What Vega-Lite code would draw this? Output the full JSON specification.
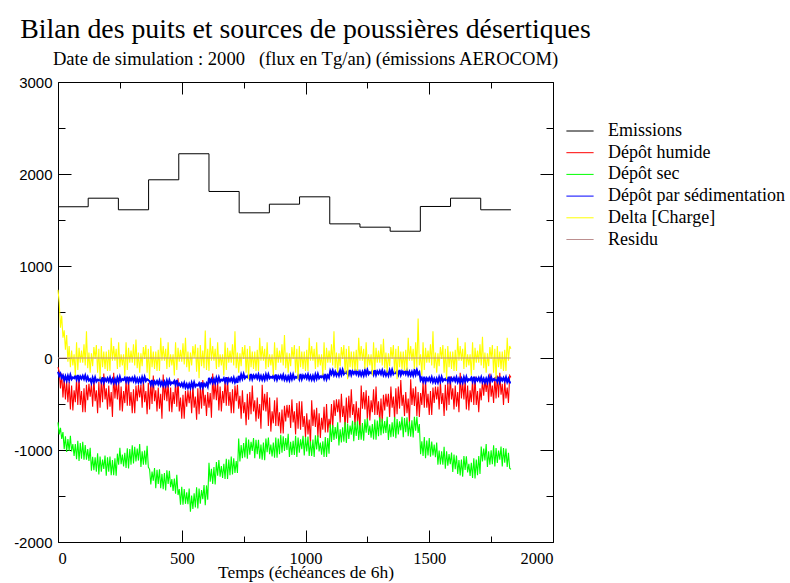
{
"$schema": "https://vega.github.io/schema/vega-lite/v6.json",
"width": 495, "height": 460,
"autosize": {"type": "none"},
"padding": {"left": 58, "top": 82, "right": 237, "bottom": 41},
"background": "white",
"title": {"text": "Bilan des puits et sources de poussières désertiques", "subtitle": "Date de simulation : 2000\u00a0\u00a0 (flux en Tg/an) (émissions AEROCOM)", "anchor": "middle", "frame": "group", "font": "Liberation Serif", "fontSize": 27.8, "fontWeight": "normal", "color": "black", "subtitleFont": "Liberation Serif", "subtitleFontSize": 18.6, "subtitleColor": "black", "subtitlePadding": 7, "offset": 6},
"config": {
 "view": {"stroke": "black", "strokeWidth": 1},
 "font": "Liberation Serif",
 "axis": {"domain": false, "grid": false, "tickColor": "black", "labelColor": "black", "titleColor": "black", "titleFontWeight": "normal"},
 "legend": {"orient": "none", "legendX": 513, "legendY": 40, "title": null, "symbolType": "M-1.7,0H1.7", "symbolSize": 256, "symbolStrokeWidth": 1, "labelFont": "Liberation Serif", "labelFontSize": 18, "labelColor": "black", "labelOffset": 19, "rowPadding": 3.7, "padding": 0, "labelLimit": 300}
},
"datasets": {
 "emis": [{"t":0,"v":1644},{"t":122,"v":1737},{"t":244,"v":1611},{"t":366,"v":1937},{"t":488,"v":2220},{"t":610,"v":1810},{"t":732,"v":1578},{"t":854,"v":1672},{"t":976,"v":1752},{"t":1098,"v":1458},{"t":1220,"v":1422},{"t":1342,"v":1378},{"t":1464,"v":1647},{"t":1586,"v":1737},{"t":1708,"v":1611},{"t":1830,"v":1611}],
 "names": [{"k":"h","name":"Dépôt humide"},{"k":"s","name":"Dépôt sec"},{"k":"d","name":"Dépôt par sédimentation"},{"k":"c","name":"Delta [Charge]"}],
 "resid": [{"t":0,"v":0},{"t":1830,"v":0}],
 "flux": [
{"t":0,"h":-100,"s":-700,"d":-150,"c":740},
{"t":5,"h":-150,"s":-830,"d":-195,"c":600},
{"t":10,"h":-330,"s":-760,"d":-170,"c":330},
{"t":15,"h":-170,"s":-880,"d":-215,"c":460},
{"t":20,"h":-430,"s":-805,"d":-190,"c":220},
{"t":25,"h":-220,"s":-990,"d":-240,"c":300},
{"t":30,"h":-450,"s":-850,"d":-200,"c":90},
{"t":35,"h":-250,"s":-1020,"d":-245,"c":250},
{"t":40,"h":-480,"s":-880,"d":-195,"c":-40},
{"t":45,"h":-260,"s":-1010,"d":-240,"c":130},
{"t":50,"h":-560,"s":-845,"d":-185,"c":-100},
{"t":55,"h":-300,"s":-1015,"d":-230,"c":80},
{"t":60,"h":-570,"s":-935,"d":-210,"c":-80},
{"t":65,"h":-350,"s":-1065,"d":-220,"c":40},
{"t":70,"h":-480,"s":-935,"d":-195,"c":-190},
{"t":75,"h":-230,"s":-1100,"d":-235,"c":170},
{"t":80,"h":-510,"s":-900,"d":-185,"c":-130},
{"t":85,"h":-200,"s":-1120,"d":-240,"c":110},
{"t":90,"h":-510,"s":-925,"d":-200,"c":-50},
{"t":95,"h":-360,"s":-1095,"d":-225,"c":80},
{"t":100,"h":-590,"s":-910,"d":-195,"c":-50},
{"t":105,"h":-330,"s":-1105,"d":-230,"c":150},
{"t":110,"h":-590,"s":-945,"d":-190,"c":-80},
{"t":115,"h":-290,"s":-1105,"d":-240,"c":290},
{"t":120,"h":-460,"s":-990,"d":-205,"c":-110},
{"t":125,"h":-280,"s":-1120,"d":-245,"c":60},
{"t":130,"h":-420,"s":-975,"d":-230,"c":-160},
{"t":135,"h":-280,"s":-1225,"d":-270,"c":50},
{"t":140,"h":-530,"s":-1075,"d":-215,"c":-90},
{"t":145,"h":-220,"s":-1220,"d":-260,"c":120},
{"t":150,"h":-470,"s":-1080,"d":-210,"c":-10},
{"t":155,"h":-350,"s":-1235,"d":-255,"c":140},
{"t":160,"h":-600,"s":-1035,"d":-235,"c":-160},
{"t":165,"h":-260,"s":-1265,"d":-245,"c":100},
{"t":170,"h":-540,"s":-1070,"d":-220,"c":-230},
{"t":175,"h":-240,"s":-1235,"d":-260,"c":130},
{"t":180,"h":-480,"s":-1105,"d":-210,"c":-100},
{"t":185,"h":-170,"s":-1205,"d":-265,"c":70},
{"t":190,"h":-450,"s":-1060,"d":-225,"c":-120},
{"t":195,"h":-330,"s":-1280,"d":-250,"c":70},
{"t":200,"h":-560,"s":-1080,"d":-220,"c":-140},
{"t":205,"h":-300,"s":-1235,"d":-255,"c":90},
{"t":210,"h":-530,"s":-1070,"d":-215,"c":-140},
{"t":215,"h":-370,"s":-1275,"d":-265,"c":220},
{"t":220,"h":-640,"s":-1110,"d":-230,"c":-30},
{"t":225,"h":-160,"s":-1275,"d":-270,"c":130},
{"t":230,"h":-440,"s":-1090,"d":-230,"c":-30},
{"t":235,"h":-260,"s":-1280,"d":-270,"c":100},
{"t":240,"h":-450,"s":-1040,"d":-215,"c":-120},
{"t":245,"h":-245,"s":-1160,"d":-258,"c":170},
{"t":250,"h":-570,"s":-975,"d":-205,"c":-100},
{"t":255,"h":-310,"s":-1155,"d":-250,"c":40},
{"t":260,"h":-580,"s":-1050,"d":-230,"c":-80},
{"t":265,"h":-360,"s":-1180,"d":-240,"c":40},
{"t":270,"h":-490,"s":-1030,"d":-215,"c":-190},
{"t":275,"h":-240,"s":-1195,"d":-255,"c":170},
{"t":280,"h":-520,"s":-980,"d":-205,"c":-130},
{"t":285,"h":-210,"s":-1200,"d":-260,"c":110},
{"t":290,"h":-520,"s":-990,"d":-220,"c":-50},
{"t":295,"h":-370,"s":-1160,"d":-245,"c":80},
{"t":300,"h":-600,"s":-950,"d":-215,"c":-50},
{"t":305,"h":-340,"s":-1145,"d":-250,"c":150},
{"t":310,"h":-600,"s":-965,"d":-210,"c":-80},
{"t":315,"h":-300,"s":-1125,"d":-260,"c":200},
{"t":320,"h":-470,"s":-985,"d":-225,"c":-110},
{"t":325,"h":-290,"s":-1115,"d":-265,"c":60},
{"t":330,"h":-430,"s":-935,"d":-225,"c":-160},
{"t":335,"h":-290,"s":-1185,"d":-265,"c":50},
{"t":340,"h":-540,"s":-1015,"d":-210,"c":-90},
{"t":345,"h":-230,"s":-1160,"d":-255,"c":120},
{"t":350,"h":-480,"s":-1005,"d":-205,"c":-10},
{"t":355,"h":-360,"s":-1160,"d":-250,"c":140},
{"t":360,"h":-610,"s":-955,"d":-230,"c":-160},
{"t":365,"h":-270,"s":-1185,"d":-240,"c":100},
{"t":370,"h":-560,"s":-1210,"d":-250,"c":-230},
{"t":375,"h":-260,"s":-1375,"d":-290,"c":130},
{"t":380,"h":-500,"s":-1235,"d":-240,"c":-100},
{"t":385,"h":-190,"s":-1335,"d":-295,"c":70},
{"t":390,"h":-470,"s":-1195,"d":-255,"c":-120},
{"t":395,"h":-350,"s":-1415,"d":-280,"c":70},
{"t":400,"h":-580,"s":-1215,"d":-250,"c":-140},
{"t":405,"h":-320,"s":-1370,"d":-285,"c":90},
{"t":410,"h":-550,"s":-1210,"d":-245,"c":-140},
{"t":415,"h":-390,"s":-1415,"d":-295,"c":220},
{"t":420,"h":-660,"s":-1260,"d":-260,"c":-30},
{"t":425,"h":-180,"s":-1425,"d":-300,"c":130},
{"t":430,"h":-460,"s":-1250,"d":-260,"c":-30},
{"t":435,"h":-280,"s":-1440,"d":-300,"c":100},
{"t":440,"h":-470,"s":-1220,"d":-245,"c":-120},
{"t":445,"h":-260,"s":-1370,"d":-290,"c":170},
{"t":450,"h":-580,"s":-1225,"d":-240,"c":-100},
{"t":455,"h":-320,"s":-1405,"d":-285,"c":40},
{"t":460,"h":-590,"s":-1315,"d":-265,"c":-80},
{"t":465,"h":-370,"s":-1445,"d":-275,"c":40},
{"t":470,"h":-500,"s":-1310,"d":-250,"c":-190},
{"t":475,"h":-250,"s":-1475,"d":-290,"c":170},
{"t":480,"h":-530,"s":-1270,"d":-240,"c":-130},
{"t":485,"h":-220,"s":-1490,"d":-295,"c":110},
{"t":490,"h":-580,"s":-1425,"d":-280,"c":-40},
{"t":495,"h":-430,"s":-1595,"d":-305,"c":90},
{"t":500,"h":-660,"s":-1400,"d":-275,"c":-40},
{"t":505,"h":-400,"s":-1595,"d":-310,"c":160},
{"t":510,"h":-660,"s":-1425,"d":-270,"c":-70},
{"t":515,"h":-360,"s":-1585,"d":-320,"c":220},
{"t":520,"h":-530,"s":-1460,"d":-285,"c":-100},
{"t":525,"h":-350,"s":-1590,"d":-325,"c":70},
{"t":530,"h":-490,"s":-1420,"d":-285,"c":-150},
{"t":535,"h":-350,"s":-1670,"d":-325,"c":60},
{"t":540,"h":-600,"s":-1495,"d":-270,"c":-80},
{"t":545,"h":-290,"s":-1640,"d":-315,"c":130},
{"t":550,"h":-540,"s":-1470,"d":-265,"c":0},
{"t":555,"h":-420,"s":-1625,"d":-310,"c":150},
{"t":560,"h":-670,"s":-1405,"d":-290,"c":-150},
{"t":565,"h":-330,"s":-1635,"d":-300,"c":110},
{"t":570,"h":-610,"s":-1420,"d":-275,"c":-220},
{"t":575,"h":-310,"s":-1585,"d":-315,"c":140},
{"t":580,"h":-550,"s":-1435,"d":-265,"c":-90},
{"t":585,"h":-240,"s":-1535,"d":-320,"c":80},
{"t":590,"h":-520,"s":-1380,"d":-280,"c":-110},
{"t":595,"h":-400,"s":-1600,"d":-305,"c":300},
{"t":600,"h":-630,"s":-1385,"d":-275,"c":-130},
{"t":605,"h":-370,"s":-1540,"d":-310,"c":100},
{"t":610,"h":-540,"s":-1140,"d":-215,"c":-140},
{"t":615,"h":-380,"s":-1345,"d":-265,"c":220},
{"t":620,"h":-650,"s":-1205,"d":-230,"c":-30},
{"t":625,"h":-170,"s":-1370,"d":-270,"c":130},
{"t":630,"h":-450,"s":-1185,"d":-230,"c":-30},
{"t":635,"h":-270,"s":-1375,"d":-270,"c":100},
{"t":640,"h":-460,"s":-1130,"d":-215,"c":-120},
{"t":645,"h":-250,"s":-1280,"d":-260,"c":170},
{"t":650,"h":-570,"s":-1110,"d":-210,"c":-100},
{"t":655,"h":-310,"s":-1290,"d":-255,"c":40},
{"t":660,"h":-580,"s":-1175,"d":-235,"c":-80},
{"t":665,"h":-360,"s":-1305,"d":-245,"c":40},
{"t":670,"h":-490,"s":-1150,"d":-220,"c":-190},
{"t":675,"h":-240,"s":-1315,"d":-260,"c":170},
{"t":680,"h":-520,"s":-1095,"d":-210,"c":-130},
{"t":685,"h":-210,"s":-1315,"d":-265,"c":110},
{"t":690,"h":-520,"s":-1105,"d":-225,"c":-50},
{"t":695,"h":-370,"s":-1275,"d":-250,"c":80},
{"t":700,"h":-600,"s":-1070,"d":-220,"c":-50},
{"t":705,"h":-340,"s":-1265,"d":-255,"c":150},
{"t":710,"h":-600,"s":-1090,"d":-215,"c":-80},
{"t":715,"h":-300,"s":-1250,"d":-265,"c":290},
{"t":720,"h":-470,"s":-1120,"d":-230,"c":-110},
{"t":725,"h":-290,"s":-1250,"d":-270,"c":60},
{"t":730,"h":-550,"s":-875,"d":-195,"c":-160},
{"t":735,"h":-410,"s":-1125,"d":-235,"c":50},
{"t":740,"h":-660,"s":-945,"d":-180,"c":-90},
{"t":745,"h":-350,"s":-1090,"d":-225,"c":120},
{"t":750,"h":-600,"s":-925,"d":-175,"c":-10},
{"t":755,"h":-480,"s":-1080,"d":-220,"c":140},
{"t":760,"h":-730,"s":-865,"d":-200,"c":-160},
{"t":765,"h":-390,"s":-1095,"d":-210,"c":100},
{"t":770,"h":-670,"s":-885,"d":-185,"c":-230},
{"t":775,"h":-370,"s":-1050,"d":-225,"c":130},
{"t":780,"h":-610,"s":-910,"d":-175,"c":-100},
{"t":785,"h":-300,"s":-1010,"d":-230,"c":70},
{"t":790,"h":-580,"s":-870,"d":-190,"c":-120},
{"t":795,"h":-460,"s":-1090,"d":-215,"c":70},
{"t":800,"h":-690,"s":-890,"d":-185,"c":-140},
{"t":805,"h":-430,"s":-1045,"d":-220,"c":90},
{"t":810,"h":-660,"s":-890,"d":-180,"c":-140},
{"t":815,"h":-500,"s":-1095,"d":-230,"c":220},
{"t":820,"h":-770,"s":-940,"d":-195,"c":-30},
{"t":825,"h":-290,"s":-1105,"d":-235,"c":130},
{"t":830,"h":-570,"s":-920,"d":-195,"c":-30},
{"t":835,"h":-390,"s":-1110,"d":-235,"c":100},
{"t":840,"h":-580,"s":-875,"d":-180,"c":-120},
{"t":845,"h":-370,"s":-1025,"d":-225,"c":170},
{"t":850,"h":-740,"s":-865,"d":-178,"c":-100},
{"t":855,"h":-430,"s":-1045,"d":-220,"c":40},
{"t":860,"h":-800,"s":-940,"d":-205,"c":-80},
{"t":865,"h":-580,"s":-1070,"d":-215,"c":40},
{"t":870,"h":-710,"s":-920,"d":-190,"c":-190},
{"t":875,"h":-460,"s":-1085,"d":-230,"c":170},
{"t":880,"h":-740,"s":-865,"d":-180,"c":-130},
{"t":885,"h":-430,"s":-1085,"d":-235,"c":110},
{"t":890,"h":-740,"s":-875,"d":-195,"c":-50},
{"t":895,"h":-590,"s":-1045,"d":-220,"c":80},
{"t":900,"h":-820,"s":-835,"d":-190,"c":-50},
{"t":905,"h":-560,"s":-1030,"d":-225,"c":150},
{"t":910,"h":-820,"s":-850,"d":-185,"c":-80},
{"t":915,"h":-520,"s":-1010,"d":-235,"c":250},
{"t":920,"h":-690,"s":-870,"d":-200,"c":-110},
{"t":925,"h":-510,"s":-1000,"d":-240,"c":60},
{"t":930,"h":-650,"s":-825,"d":-200,"c":-160},
{"t":935,"h":-510,"s":-1075,"d":-240,"c":50},
{"t":940,"h":-760,"s":-910,"d":-185,"c":-90},
{"t":945,"h":-450,"s":-1055,"d":-230,"c":120},
{"t":950,"h":-700,"s":-900,"d":-180,"c":-10},
{"t":955,"h":-580,"s":-1055,"d":-225,"c":140},
{"t":960,"h":-830,"s":-845,"d":-205,"c":-160},
{"t":965,"h":-490,"s":-1075,"d":-215,"c":100},
{"t":970,"h":-770,"s":-865,"d":-190,"c":-230},
{"t":975,"h":-470,"s":-1030,"d":-230,"c":130},
{"t":980,"h":-780,"s":-885,"d":-175,"c":-100},
{"t":985,"h":-470,"s":-990,"d":-230,"c":70},
{"t":990,"h":-750,"s":-845,"d":-190,"c":-120},
{"t":995,"h":-630,"s":-1060,"d":-215,"c":70},
{"t":1000,"h":-860,"s":-860,"d":-185,"c":-140},
{"t":1005,"h":-600,"s":-1015,"d":-220,"c":90},
{"t":1010,"h":-830,"s":-855,"d":-180,"c":-140},
{"t":1015,"h":-670,"s":-1065,"d":-230,"c":220},
{"t":1020,"h":-940,"s":-905,"d":-195,"c":-30},
{"t":1025,"h":-460,"s":-1065,"d":-235,"c":130},
{"t":1030,"h":-740,"s":-885,"d":-195,"c":-30},
{"t":1035,"h":-560,"s":-1075,"d":-235,"c":100},
{"t":1040,"h":-750,"s":-840,"d":-180,"c":-120},
{"t":1045,"h":-540,"s":-995,"d":-225,"c":170},
{"t":1050,"h":-860,"s":-840,"d":-175,"c":-100},
{"t":1055,"h":-600,"s":-1015,"d":-220,"c":40},
{"t":1060,"h":-870,"s":-920,"d":-200,"c":-80},
{"t":1065,"h":-650,"s":-1050,"d":-210,"c":40},
{"t":1070,"h":-780,"s":-905,"d":-185,"c":-190},
{"t":1075,"h":-530,"s":-1075,"d":-225,"c":170},
{"t":1080,"h":-810,"s":-860,"d":-175,"c":-130},
{"t":1085,"h":-500,"s":-1075,"d":-230,"c":110},
{"t":1090,"h":-810,"s":-870,"d":-190,"c":-50},
{"t":1095,"h":-660,"s":-1040,"d":-215,"c":80},
{"t":1100,"h":-760,"s":-720,"d":-140,"c":-50},
{"t":1105,"h":-500,"s":-913,"d":-175,"c":150},
{"t":1110,"h":-760,"s":-728,"d":-135,"c":-80},
{"t":1115,"h":-460,"s":-890,"d":-185,"c":290},
{"t":1120,"h":-630,"s":-750,"d":-150,"c":-110},
{"t":1125,"h":-450,"s":-878,"d":-190,"c":60},
{"t":1130,"h":-590,"s":-698,"d":-150,"c":-160},
{"t":1135,"h":-450,"s":-950,"d":-190,"c":50},
{"t":1140,"h":-700,"s":-775,"d":-135,"c":-90},
{"t":1145,"h":-390,"s":-918,"d":-180,"c":120},
{"t":1150,"h":-640,"s":-753,"d":-130,"c":-10},
{"t":1155,"h":-520,"s":-910,"d":-175,"c":140},
{"t":1160,"h":-770,"s":-695,"d":-155,"c":-160},
{"t":1165,"h":-430,"s":-923,"d":-165,"c":100},
{"t":1170,"h":-710,"s":-713,"d":-140,"c":-230},
{"t":1175,"h":-410,"s":-880,"d":-180,"c":130},
{"t":1180,"h":-650,"s":-735,"d":-130,"c":-100},
{"t":1185,"h":-340,"s":-833,"d":-185,"c":70},
{"t":1190,"h":-620,"s":-683,"d":-145,"c":-120},
{"t":1195,"h":-500,"s":-905,"d":-170,"c":70},
{"t":1200,"h":-730,"s":-695,"d":-140,"c":-140},
{"t":1205,"h":-470,"s":-848,"d":-175,"c":90},
{"t":1210,"h":-700,"s":-683,"d":-135,"c":-140},
{"t":1215,"h":-540,"s":-890,"d":-185,"c":220},
{"t":1220,"h":-810,"s":-725,"d":-150,"c":-30},
{"t":1225,"h":-300,"s":-889,"d":-190,"c":130},
{"t":1230,"h":-550,"s":-706,"d":-150,"c":-30},
{"t":1235,"h":-370,"s":-898,"d":-190,"c":100},
{"t":1240,"h":-560,"s":-665,"d":-135,"c":-120},
{"t":1245,"h":-350,"s":-813,"d":-180,"c":170},
{"t":1250,"h":-670,"s":-656,"d":-130,"c":-100},
{"t":1255,"h":-410,"s":-837,"d":-175,"c":40},
{"t":1260,"h":-680,"s":-735,"d":-155,"c":-80},
{"t":1265,"h":-460,"s":-865,"d":-165,"c":40},
{"t":1270,"h":-590,"s":-719,"d":-140,"c":-190},
{"t":1275,"h":-340,"s":-885,"d":-180,"c":170},
{"t":1280,"h":-620,"s":-668,"d":-130,"c":-130},
{"t":1285,"h":-310,"s":-887,"d":-185,"c":110},
{"t":1290,"h":-620,"s":-680,"d":-145,"c":-50},
{"t":1295,"h":-470,"s":-851,"d":-170,"c":80},
{"t":1300,"h":-700,"s":-645,"d":-140,"c":-50},
{"t":1305,"h":-440,"s":-840,"d":-175,"c":150},
{"t":1310,"h":-700,"s":-660,"d":-135,"c":-80},
{"t":1315,"h":-400,"s":-820,"d":-185,"c":210},
{"t":1320,"h":-570,"s":-685,"d":-150,"c":-110},
{"t":1325,"h":-390,"s":-815,"d":-190,"c":60},
{"t":1330,"h":-530,"s":-640,"d":-150,"c":-160},
{"t":1335,"h":-390,"s":-890,"d":-190,"c":50},
{"t":1340,"h":-640,"s":-720,"d":-135,"c":-90},
{"t":1345,"h":-310,"s":-862,"d":-180,"c":120},
{"t":1350,"h":-540,"s":-699,"d":-130,"c":-10},
{"t":1355,"h":-420,"s":-855,"d":-175,"c":140},
{"t":1360,"h":-670,"s":-643,"d":-155,"c":-160},
{"t":1365,"h":-330,"s":-871,"d":-165,"c":100},
{"t":1370,"h":-610,"s":-663,"d":-140,"c":-230},
{"t":1375,"h":-310,"s":-830,"d":-180,"c":130},
{"t":1380,"h":-550,"s":-687,"d":-130,"c":-100},
{"t":1385,"h":-240,"s":-786,"d":-185,"c":70},
{"t":1390,"h":-520,"s":-639,"d":-145,"c":-120},
{"t":1395,"h":-400,"s":-860,"d":-170,"c":70},
{"t":1400,"h":-630,"s":-653,"d":-140,"c":-140},
{"t":1405,"h":-370,"s":-807,"d":-175,"c":90},
{"t":1410,"h":-600,"s":-645,"d":-135,"c":-140},
{"t":1415,"h":-440,"s":-851,"d":-185,"c":220},
{"t":1420,"h":-710,"s":-690,"d":-150,"c":-30},
{"t":1425,"h":-230,"s":-855,"d":-190,"c":130},
{"t":1430,"h":-510,"s":-676,"d":-150,"c":-30},
{"t":1435,"h":-330,"s":-865,"d":-190,"c":100},
{"t":1440,"h":-520,"s":-638,"d":-135,"c":-120},
{"t":1445,"h":-310,"s":-789,"d":-180,"c":170},
{"t":1450,"h":-630,"s":-636,"d":-130,"c":-100},
{"t":1455,"h":-370,"s":-815,"d":-175,"c":430},
{"t":1460,"h":-640,"s":-717,"d":-155,"c":-80},
{"t":1465,"h":-380,"s":-1045,"d":-240,"c":40},
{"t":1470,"h":-510,"s":-905,"d":-215,"c":-190},
{"t":1475,"h":-260,"s":-1065,"d":-255,"c":170},
{"t":1480,"h":-540,"s":-860,"d":-205,"c":-130},
{"t":1485,"h":-230,"s":-1088,"d":-260,"c":110},
{"t":1490,"h":-540,"s":-898,"d":-220,"c":-50},
{"t":1495,"h":-390,"s":-1060,"d":-245,"c":80},
{"t":1500,"h":-620,"s":-870,"d":-215,"c":-50},
{"t":1505,"h":-360,"s":-1073,"d":-250,"c":150},
{"t":1510,"h":-620,"s":-908,"d":-210,"c":-80},
{"t":1515,"h":-320,"s":-1060,"d":-260,"c":290},
{"t":1520,"h":-490,"s":-940,"d":-225,"c":-110},
{"t":1525,"h":-310,"s":-1078,"d":-265,"c":60},
{"t":1530,"h":-450,"s":-918,"d":-225,"c":-160},
{"t":1535,"h":-310,"s":-1160,"d":-265,"c":50},
{"t":1540,"h":-560,"s":-1005,"d":-210,"c":-90},
{"t":1545,"h":-250,"s":-1158,"d":-255,"c":120},
{"t":1550,"h":-500,"s":-1013,"d":-205,"c":-10},
{"t":1555,"h":-380,"s":-1160,"d":-250,"c":140},
{"t":1560,"h":-630,"s":-965,"d":-230,"c":-160},
{"t":1565,"h":-290,"s":-1203,"d":-240,"c":100},
{"t":1570,"h":-570,"s":-1013,"d":-215,"c":-230},
{"t":1575,"h":-270,"s":-1170,"d":-255,"c":130},
{"t":1580,"h":-510,"s":-1045,"d":-205,"c":-100},
{"t":1585,"h":-200,"s":-1155,"d":-260,"c":70},
{"t":1590,"h":-450,"s":-1028,"d":-220,"c":-120},
{"t":1595,"h":-330,"s":-1240,"d":-245,"c":70},
{"t":1600,"h":-560,"s":-1050,"d":-215,"c":-140},
{"t":1605,"h":-300,"s":-1210,"d":-250,"c":90},
{"t":1610,"h":-530,"s":-1060,"d":-210,"c":-140},
{"t":1615,"h":-370,"s":-1260,"d":-260,"c":220},
{"t":1620,"h":-590,"s":-1110,"d":-225,"c":-30},
{"t":1625,"h":-160,"s":-1278,"d":-265,"c":130},
{"t":1630,"h":-440,"s":-1103,"d":-225,"c":-30},
{"t":1635,"h":-260,"s":-1290,"d":-265,"c":100},
{"t":1640,"h":-450,"s":-1065,"d":-210,"c":-120},
{"t":1645,"h":-240,"s":-1218,"d":-255,"c":170},
{"t":1650,"h":-560,"s":-1068,"d":-205,"c":-100},
{"t":1655,"h":-300,"s":-1245,"d":-250,"c":40},
{"t":1660,"h":-570,"s":-1150,"d":-230,"c":-80},
{"t":1665,"h":-350,"s":-1283,"d":-240,"c":40},
{"t":1670,"h":-480,"s":-1140,"d":-215,"c":-190},
{"t":1675,"h":-230,"s":-1305,"d":-255,"c":170},
{"t":1680,"h":-510,"s":-1090,"d":-205,"c":-130},
{"t":1685,"h":-200,"s":-1310,"d":-260,"c":110},
{"t":1690,"h":-510,"s":-1103,"d":-220,"c":-50},
{"t":1695,"h":-360,"s":-1275,"d":-245,"c":80},
{"t":1700,"h":-590,"s":-1065,"d":-215,"c":-50},
{"t":1705,"h":-330,"s":-1260,"d":-250,"c":150},
{"t":1710,"h":-460,"s":-963,"d":-210,"c":-80},
{"t":1715,"h":-240,"s":-1125,"d":-260,"c":230},
{"t":1720,"h":-410,"s":-985,"d":-225,"c":-110},
{"t":1725,"h":-230,"s":-1113,"d":-265,"c":60},
{"t":1730,"h":-370,"s":-935,"d":-225,"c":-160},
{"t":1735,"h":-230,"s":-1185,"d":-265,"c":50},
{"t":1740,"h":-480,"s":-1015,"d":-210,"c":-90},
{"t":1745,"h":-170,"s":-1160,"d":-255,"c":120},
{"t":1750,"h":-420,"s":-1003,"d":-205,"c":-10},
{"t":1755,"h":-300,"s":-1155,"d":-250,"c":140},
{"t":1760,"h":-490,"s":-950,"d":-230,"c":-160},
{"t":1765,"h":-210,"s":-1180,"d":-240,"c":100},
{"t":1770,"h":-440,"s":-978,"d":-215,"c":-230},
{"t":1775,"h":-190,"s":-1140,"d":-255,"c":130},
{"t":1780,"h":-430,"s":-1005,"d":-205,"c":-100},
{"t":1785,"h":-160,"s":-1105,"d":-260,"c":70},
{"t":1790,"h":-400,"s":-963,"d":-220,"c":-120},
{"t":1795,"h":-280,"s":-1180,"d":-245,"c":70},
{"t":1800,"h":-510,"s":-980,"d":-215,"c":-140},
{"t":1805,"h":-250,"s":-1138,"d":-250,"c":90},
{"t":1810,"h":-440,"s":-983,"d":-210,"c":-140},
{"t":1815,"h":-320,"s":-1185,"d":-260,"c":220},
{"t":1820,"h":-490,"s":-1030,"d":-225,"c":-30},
{"t":1825,"h":-190,"s":-1198,"d":-265,"c":130},
{"t":1830,"h":-210,"s":-1210,"d":-265,"c":100}
 ]
},
"resolve": {"axis": {"x": "independent", "y": "independent"}},
"layer": [
 {
  "data": {"name": "emis"},
  "mark": {"type": "line", "interpolate": "step-after", "strokeWidth": 1},
  "encoding": {
   "x": {"field": "t", "type": "quantitative", "scale": {"domain": [0, 2000], "nice": false, "zero": false},
     "axis": {"orient": "bottom", "values": [0,250,500,750,1000,1250,1500,1750,2000], "labelExpr": "datum.value % 500 === 0 ? '' + datum.value : ''", "labelFont": "Liberation Serif", "labelFontSize": 16.5, "labelPadding": 20, "tickSize": {"condition": {"test": "datum.value % 500 === 0", "value": -12}, "value": -6}, "title": "Temps (échéances de 6h)", "titleFont": "Liberation Serif", "titleFontSize": 17.5, "titlePadding": -3}},
   "y": {"field": "v", "type": "quantitative", "scale": {"domain": [-2000, 3000], "nice": false, "zero": false},
     "axis": {"orient": "left", "values": [-2000,-1500,-1000,-500,0,500,1000,1500,2000,2500,3000], "labelExpr": "datum.value % 1000 === 0 ? '' + datum.value : ''", "labelFont": "Liberation Sans", "labelFontSize": 15, "labelPadding": 19, "tickSize": {"condition": {"test": "datum.value % 1000 === 0", "value": -13}, "value": -7}, "title": null}},
   "color": {"datum": "Emissions", "type": "nominal",
     "scale": {"domain": ["Emissions","Dépôt humide","Dépôt sec","Dépôt par sédimentation","Delta [Charge]","Residu"], "range": ["#000000","#ff0000","#00ff00","#0000ff","#ffff00","#bc8f8f"]}}
  }
 },
 {
  "data": {"name": "flux"},
  "transform": [
   {"fold": ["h", "s"], "as": ["k", "v"]},
   {"lookup": "k", "from": {"data": {"name": "names"}, "key": "k", "fields": ["name"]}}
  ],
  "mark": {"type": "line", "strokeWidth": 1.1},
  "encoding": {
   "x": {"field": "t", "type": "quantitative",
     "axis": {"orient": "top", "values": [0,250,500,750,1000,1250,1500,1750,2000], "labels": false, "tickSize": {"condition": {"test": "datum.value % 500 === 0", "value": -12}, "value": -6}, "title": null}},
   "y": {"field": "v", "type": "quantitative",
     "axis": {"orient": "right", "values": [-2000,-1500,-1000,-500,0,500,1000,1500,2000,2500,3000], "labels": false, "tickSize": {"condition": {"test": "datum.value % 1000 === 0", "value": -13}, "value": -7}, "title": null}},
   "color": {"field": "name", "type": "nominal"}
  }
 },
 {
  "data": {"name": "flux"},
  "transform": [
   {"fold": ["d"], "as": ["k", "v"]},
   {"lookup": "k", "from": {"data": {"name": "names"}, "key": "k", "fields": ["name"]}}
  ],
  "mark": {"type": "line", "strokeWidth": 2},
  "encoding": {
   "x": {"field": "t", "type": "quantitative", "axis": null},
   "y": {"field": "v", "type": "quantitative", "axis": null},
   "color": {"field": "name", "type": "nominal"}
  }
 },
 {
  "data": {"name": "flux"},
  "transform": [
   {"fold": ["c"], "as": ["k", "v"]},
   {"lookup": "k", "from": {"data": {"name": "names"}, "key": "k", "fields": ["name"]}}
  ],
  "mark": {"type": "line", "strokeWidth": 1.1},
  "encoding": {
   "x": {"field": "t", "type": "quantitative", "axis": null},
   "y": {"field": "v", "type": "quantitative", "axis": null},
   "color": {"field": "name", "type": "nominal"}
  }
 },
 {
  "data": {"name": "resid"},
  "mark": {"type": "line", "strokeWidth": 1},
  "encoding": {
   "x": {"field": "t", "type": "quantitative", "axis": null},
   "y": {"field": "v", "type": "quantitative", "axis": null},
   "color": {"datum": "Residu", "type": "nominal"}
  }
 }
]
}
